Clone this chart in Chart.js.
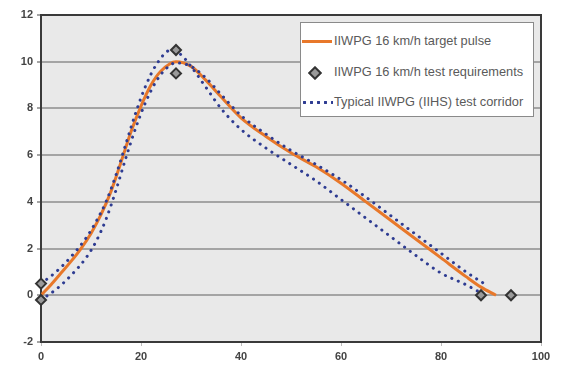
<!DOCTYPE html>
<html>
<head>
<meta charset="utf-8">
<script src="https://cdn.jsdelivr.net/npm/chart.js@4/dist/chart.umd.min.js"></script>
<style>
  html, body { margin: 0; padding: 0; background: #fff; }
  #wrap { position: relative; width: 562px; height: 371px; }
  #legend {
    position: absolute; left: 300px; top: 22px; width: 234px; height: 95px;
    background: #fff; border: 1px solid #8a8a8a; box-sizing: border-box;
    font: 12.8px "Liberation Sans", Arial, sans-serif; color: #5a5a5a;
  }
  .row { position: absolute; left: 0; height: 14px; line-height: 14px; white-space: nowrap; }
  .row span.txt { position: absolute; left: 33px; top: 0; }
  .sw-line { position: absolute; left: 1px; top: 6px; width: 30px; height: 3px; background: #e8782a; }
  .sw-dia { position: absolute; left: 9px; top: 3px; width: 6px; height: 6px; transform: rotate(45deg);
            background: #9a9a9a; border: 2px solid #333; }
  .sw-dot { position: absolute; left: 0; top: 6px; width: 32px; height: 3px;
            background: radial-gradient(circle, #2e3c92 1.4px, transparent 1.6px) 0 0 / 7px 3px repeat-x; }
</style>
</head>
<body>
<div id="wrap">
  <canvas id="chart" width="562" height="371"></canvas>
  <div id="legend">
    <div class="row" style="top:11px"><div class="sw-line"></div><span class="txt">IIWPG 16 km/h target pulse</span></div>
    <div class="row" style="top:42px"><div class="sw-dia"></div><span class="txt">IIWPG 16 km/h test requirements</span></div>
    <div class="row" style="top:72px"><div class="sw-dot"></div><span class="txt">Typical IIWPG (IIHS) test corridor</span></div>
  </div>
</div>
<script>
// ---- data ----
const xTicks = [0, 20, 40, 60, 80, 100];
const yTicks = [-2, 0, 2, 4, 6, 8, 10, 12];

// target pulse (orange)
const targetX = [0, 2, 4, 6, 8, 10, 12, 14, 16, 18, 20, 22, 24, 27, 30, 33, 36, 40, 45, 50, 55, 60, 65, 70, 75, 80, 85, 88, 91];
const targetY = [0, 0.45, 0.95, 1.45, 2.0, 2.65, 3.45, 4.45, 5.7, 7.0, 8.1, 9.0, 9.6, 10.0, 9.8, 9.2, 8.5, 7.6, 6.8, 6.1, 5.5, 4.8, 4.0, 3.2, 2.4, 1.6, 0.8, 0.35, 0];

// test requirement diamonds
const reqX = [0, 0, 27, 27, 88, 94];
const reqY = [0.5, -0.2, 10.5, 9.5, 0, 0];

// corridor, early / inner bound
const innerX = [0, 3, 6, 9, 11, 13, 15, 17, 19, 21, 23, 26, 28, 30, 33, 36, 40, 45, 50, 55, 60, 65, 70, 75, 80, 85, 88];
const innerY = [0.5, 1.0, 1.65, 2.45, 3.15, 4.0, 5.15, 6.5, 7.85, 9.0, 9.85, 10.5, 10.3, 9.8, 8.9, 8.0, 7.1, 6.3, 5.6, 4.9, 4.1, 3.3, 2.5, 1.7, 0.95, 0.45, 0.1];

// corridor, late / outer bound
const outerX = [0, 3, 6, 9, 11, 13, 15, 17, 19, 21, 23, 25, 27, 30, 33, 36, 40, 45, 50, 55, 60, 65, 70, 75, 80, 85, 89];
const outerY = [-0.2, 0.25, 0.85, 1.6, 2.3, 3.25, 4.5, 5.9, 7.2, 8.3, 9.15, 9.7, 9.95, 9.8, 9.3, 8.6, 7.7, 6.9, 6.2, 5.6, 4.95, 4.2, 3.4, 2.6, 1.8, 1.0, 0.45];

const pts = (xs, ys) => xs.map((x, i) => ({ x, y: ys[i] }));

// plot area background + frame (drawn under the data)
const frame = {
  id: 'frame',
  beforeDraw(chart) {
    const { ctx, chartArea: a } = chart;
    ctx.save();
    ctx.fillStyle = '#e9e9e9';
    ctx.fillRect(a.left, a.top, a.right - a.left, a.bottom - a.top);
    ctx.restore();
  },
  beforeDatasetsDraw(chart) {
    const { ctx, chartArea: a } = chart;
    ctx.save();
    ctx.strokeStyle = '#3a3a3a';
    ctx.lineWidth = 2;
    ctx.strokeRect(a.left, a.top, a.right - a.left, a.bottom - a.top);
    ctx.restore();
  }
};

const tickFont = { family: 'Liberation Sans', size: 11, weight: 'bold' };

new Chart(document.getElementById('chart'), {
  type: 'scatter',
  data: {
    datasets: [
      {
        label: 'IIWPG 16 km/h test requirements',
        data: pts(reqX, reqY),
        showLine: false, clip: false,
        pointStyle: 'rectRot', pointRadius: 5,
        backgroundColor: '#9a9a9a', borderColor: '#333', borderWidth: 2,
        order: 0
      },
      {
        label: 'Typical IIWPG (IIHS) test corridor',
        data: pts(innerX, innerY),
        showLine: true, pointRadius: 0,
        borderColor: '#2e3c92', borderWidth: 3,
        borderDash: [0.1, 7], borderCapStyle: 'round',
        cubicInterpolationMode: 'monotone',
        order: 1
      },
      {
        label: 'corridor outer',
        data: pts(outerX, outerY),
        showLine: true, pointRadius: 0,
        borderColor: '#2e3c92', borderWidth: 3,
        borderDash: [0.1, 7], borderCapStyle: 'round',
        cubicInterpolationMode: 'monotone',
        order: 1
      },
      {
        label: 'IIWPG 16 km/h target pulse',
        data: pts(targetX, targetY),
        showLine: true, pointRadius: 0,
        borderColor: '#e8782a', borderWidth: 3,
        cubicInterpolationMode: 'monotone',
        order: 2
      }
    ]
  },
  options: {
    responsive: false,
    animation: false,
    events: [],
    layout: { padding: { left: 0, top: 15, right: 21, bottom: 0 } },
    plugins: { legend: { display: false }, tooltip: { enabled: false } },
    scales: {
      x: {
        type: 'linear', min: 0, max: 100,
        afterFit: a => { a.height = 29; },
        afterBuildTicks: a => { a.ticks = xTicks.map(v => ({ value: v })); },
        grid: { display: true, drawOnChartArea: false, drawTicks: true, tickLength: 4, color: '#bbb' },
        border: { display: false },
        ticks: { color: '#444', font: tickFont, padding: 4 }
      },
      y: {
        min: -2, max: 12,
        afterFit: a => { a.width = 41; },
        afterBuildTicks: a => { a.ticks = yTicks.map(v => ({ value: v })); },
        grid: { color: '#a4a4a4', lineWidth: 2, drawTicks: true, tickLength: 4 },
        border: { display: false },
        ticks: { color: '#444', font: tickFont, padding: 4 }
      }
    }
  },
  plugins: [frame]
});
</script>
</body>
</html>
